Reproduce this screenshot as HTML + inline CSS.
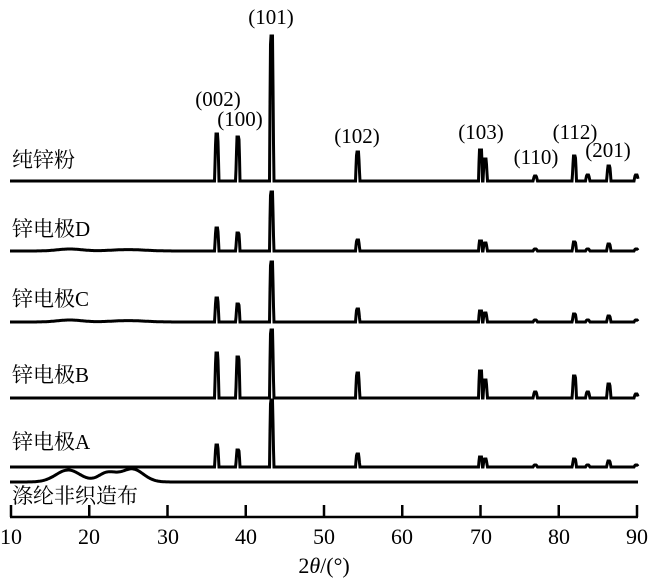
<!DOCTYPE html>
<html><head><meta charset="utf-8"><style>
html,body{margin:0;padding:0;background:#fff;}
svg{display:block;}
text{font-family:"Liberation Serif","Noto Serif CJK SC",serif;fill:#000;}
.cn{font-family:"Liberation Serif","Noto Sans CJK SC",sans-serif;}
</style></head><body>
<svg id="s" width="650" height="581" viewBox="0 0 650 581" xmlns="http://www.w3.org/2000/svg">
<g id="g" fill="none" stroke="#000" stroke-width="3" stroke-linejoin="miter"></g>
<line x1="10" y1="517" x2="638" y2="517" stroke="#000" stroke-width="2.5"/>
<g stroke="#000" stroke-width="2.5" id="ticks"></g>
<g font-size="22" text-anchor="middle">
<text x="11" y="544">10</text><text x="89" y="544">20</text><text x="168" y="544">30</text>
<text x="246" y="544">40</text><text x="324" y="544">50</text><text x="402" y="544">60</text>
<text x="481" y="544">70</text><text x="559" y="544">80</text><text x="637" y="544">90</text>
<text x="324" y="573">2<tspan font-style="italic">θ</tspan>/(°)</text>
</g>
<g font-size="21" text-anchor="middle">
<text x="271" y="24">(101)</text><text x="218" y="106">(002)</text><text x="240" y="126">(100)</text>
<text x="357" y="143">(102)</text><text x="481" y="139">(103)</text><text x="536" y="164">(110)</text>
<text x="575" y="139">(112)</text><text x="608" y="157">(201)</text>
</g>
<g font-size="21" class="cn">
<text x="12" y="167">纯锌粉</text><text x="12" y="236">锌电极D</text><text x="12" y="306">锌电极C</text>
<text x="12" y="382">锌电极B</text><text x="12" y="449">锌电极A</text><text x="12" y="503">涤纶非织造布</text>
</g>
</svg>
<script>
var X=function(t){return 11+(t-10)*7.825;};
var g=document.getElementById('g'),tk=document.getElementById('ticks');
for(var t=10;t<=90;t+=10){var l=document.createElementNS('http://www.w3.org/2000/svg','line');l.setAttribute('x1',X(t));l.setAttribute('x2',X(t));l.setAttribute('y1',505);l.setAttribute('y2',517);tk.appendChild(l);}
var pos=[36.3,39.0,43.3,54.3,70.0,70.6,77.0,82.0,83.7,86.4,89.9];
function pattern(base,h,hump){
  var pts=[];
  for(var x=10;x<=638;x+=0.5){
    var t=10+(x-11)/7.825,y=base;
    for(var i=0;i<pos.length;i++){var d=Math.abs(x-X(pos[i]));if(d<2)y=Math.min(y,base-h[i]*(d<1?1:(1-(d-1)*0.8)));}
    if(hump){y-=hump*(Math.exp(-Math.pow((t-17.5)/2.2,2))+0.7*Math.exp(-Math.pow((t-25)/3,2)));}
    pts.push(x+','+y.toFixed(1));
  }
  var p=document.createElementNS('http://www.w3.org/2000/svg','polyline');p.setAttribute('points',pts.join(' '));g.appendChild(p);
}
pattern(181,[47,44,145,29,31,22,5,25,6,15,6],0);
pattern(251,[23,18,59,11,10,8,2,9,2,7,2],2);
pattern(322,[24,18,60,13,11,9,2,8,2,6,2],2);
pattern(398,[45,41,68,25,27,18,6,22,6,14,4],0);
pattern(467,[22,17,67,13,10,8,2,8,2,6,2],0);
var pts=[];for(var x=10;x<=638;x++){var t=10+(x-11)/7.825;var y=482-12*Math.exp(-Math.pow((t-17.3)/2.2,2))-9*Math.exp(-Math.pow((t-22.3)/1.6,2))-13*Math.exp(-Math.pow((t-25.5)/2.0,2));pts.push(x+','+y.toFixed(1));}
var p=document.createElementNS('http://www.w3.org/2000/svg','polyline');p.setAttribute('points',pts.join(' '));g.appendChild(p);
</script>
</body></html>
